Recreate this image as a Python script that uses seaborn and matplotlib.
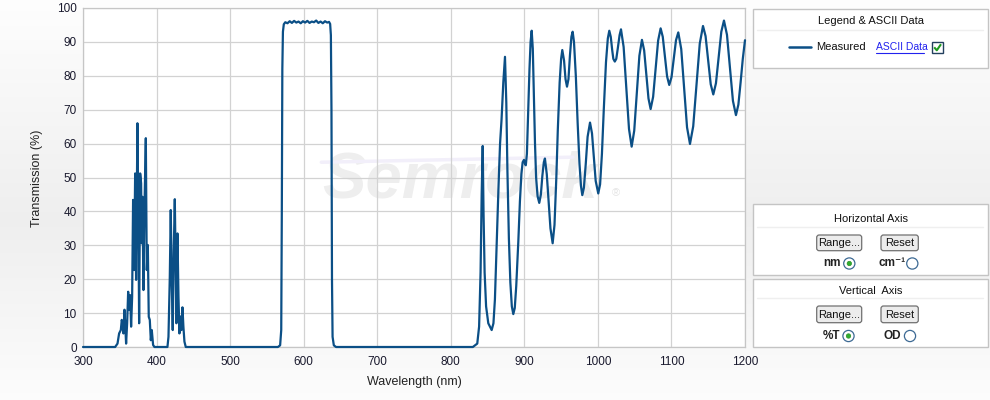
import numpy as np
import pandas as pd
import matplotlib
matplotlib.use("Agg")
import matplotlib.pyplot as plt
import seaborn as sns
from matplotlib.patches import Rectangle, FancyBboxPatch, Circle

# ---------------- data ----------------
uv_nm = [300, 340, 343.7, 346.9, 349.1, 351.4, 352.7, 353.7, 355.0, 356.4, 357.3, 358.6,
         360.0, 361.4, 362.7, 364.1, 365.4, 366.8, 368.1, 369.5, 370.9, 372.2,
         374.0, 375.4, 376.3, 377.7, 379.0, 379.9, 380.8, 382.2, 383.5, 385.4,
         386.7, 388.1, 389.4, 390.8, 392.2, 393.5, 395.3, 397.1,
         414.8, 416.2, 418.0, 419.3, 420.7, 422.0, 423.4, 424.8, 426.1, 427.0,
         428.4, 429.8, 431.1, 432.5, 433.8, 435.2, 436.5, 437.9, 439.7]
uv_T = [0, 0, 0, 1, 4, 5, 8, 7, 4, 11, 7, 1,
        7, 16.3, 11, 15.3, 6, 14.8, 43.4, 22.7, 51.2, 19.8,
        66, 35.5, 7, 51.2, 48.3, 30.6, 44.3, 16.8, 40.4, 61.6,
        22.7, 30.1, 8.9, 8, 2, 5, 0.6, 0,
        0, 3, 20.7, 40.4, 18.8, 5, 28.6, 43.6, 20.7, 7,
        33.5, 14.8, 4, 9, 5, 11.7, 6, 1.6, 0]

band_nm = [445, 565, 568, 569.5, 570.3, 571.0, 571.8, 573.0,
           575, 578, 581, 584, 587, 590, 593, 596, 599, 602,
           605, 608, 611, 614, 617, 620, 623, 626, 629, 632,
           634.5, 636, 637.0, 637.8, 638.5, 639.3, 641, 644]
band_T = [0, 0, 0.5, 5, 40, 82, 93, 95.2,
          95.8, 95.5, 96.1, 95.6, 96.2, 95.7, 96.0, 95.5, 96.1, 95.7,
          96.2, 95.6, 96.0, 95.8, 96.3, 95.6, 96.0, 95.5, 96.1, 95.7,
          95.9, 95.3, 92, 70, 20, 3, 0.5, 0]

ir_nm = [650, 830, 836, 838.5, 840.5, 842, 843.4, 844.5, 846, 848, 851, 855.6,
         858, 860, 862, 865, 867, 869, 871.4, 873.7, 875.5, 877, 879, 881, 883, 885,
         887, 889, 891.8, 894, 896, 897.7, 899.5, 901, 902, 903.5, 905, 907, 908.5, 910,
         911.5, 913, 914.5, 916, 918, 920.3, 922.5, 924.5, 926.5, 928,
         930.5, 933, 935.5, 938.5, 941, 943.5, 945.5, 948, 950, 951.6,
         954, 956, 958, 960, 962, 964, 965.7, 967.5, 970, 972.5, 975, 977, 978.8,
         981, 983.5, 986, 989.3, 992, 994.5, 997, 1000.5, 1003, 1005.5, 1008, 1011, 1013.5, 1015.5,
         1017.5, 1019.5, 1021, 1023, 1025, 1027, 1029.5, 1031.4,
         1035, 1038.7, 1042.3, 1045.9, 1049.4, 1052.9, 1056.4, 1059.9,
         1062.9, 1065.8, 1068.8, 1071.7, 1075.1, 1078.5, 1081.9, 1085.3,
         1088.2, 1091.2, 1094.1, 1097, 1100.1, 1103.2, 1106.2, 1109.3,
         1113.3, 1117.3, 1121.2, 1125.2, 1129.6, 1134, 1138.5, 1142.9,
         1146.4, 1149.9, 1153.4, 1156.9, 1160.5, 1164.2, 1167.8, 1171.4,
         1175.5, 1179.6, 1183.6, 1187.7, 1191, 1194, 1197, 1200]
ir_T = [0, 0, 1, 6, 22, 45, 59.3, 40, 22, 12, 7, 5,
        7, 14, 28, 48, 60, 67, 78, 85.6, 72, 52, 32, 19, 12, 9.7,
        11.5, 18, 31, 43, 51, 54.5, 55.2, 54, 53.6, 57, 68, 82, 90, 93.3,
        88, 74, 60, 50, 44.5, 42.5, 45, 50.5, 54.5, 55.6,
        51, 43, 35, 30.6, 36, 50, 64, 78, 85, 87.6,
        84.5, 79, 76.8, 79, 86, 91.5, 93, 90, 80, 66, 54, 47.5, 44.8,
        47, 54, 62, 66.2, 63, 56, 49, 45.3, 48, 57, 70, 84, 91, 93.3,
        91.5, 87.5, 85, 84.2, 85, 88, 92, 93.7,
        88.5, 76.4, 64.3, 59.1, 63.8, 74.9, 85.9, 90.6,
        87.5, 80.4, 73.3, 70.2, 73.8, 82.1, 90.4, 94,
        91.5, 85.7, 79.8, 77.3, 79.6, 85.1, 90.5, 92.8,
        87.9, 76.4, 64.8, 59.9, 65.1, 77.3, 89.5, 94.7,
        91.7, 84.6, 77.5, 74.5, 77.8, 85.4, 93.0, 96.3,
        92.1, 82.4, 72.6, 68.4, 71.5, 78, 85, 90.5]

x_ticks = [300, 400, 500, 600, 700, 800, 900, 1000, 1100, 1200]
y_ticks = [0, 10, 20, 30, 40, 50, 60, 70, 80, 90, 100]

assert len(uv_nm) == len(uv_T) and len(band_nm) == len(band_T) and len(ir_nm) == len(ir_T)

df = pd.DataFrame({
    "Wavelength (nm)": np.concatenate([uv_nm, band_nm, ir_nm]).astype(float),
    "Transmission (%)": np.concatenate([uv_T, band_T, ir_T]).astype(float),
})

# ---------------- style ----------------
sns.set_theme(style="white")
plt.rcParams['font.family'] = ['Liberation Sans', 'DejaVu Sans']

W, H = 990, 400
fig = plt.figure(figsize=(W / 100, H / 100), dpi=100)

# background gradient
bg = fig.add_axes([0, 0, 1, 1], zorder=-5)
t = np.linspace(0, 1, 200)
v = np.where(t < 0.55, 0.995 - (0.995 - 0.935) * (t / 0.55),
             0.935 + (0.99 - 0.935) * ((t - 0.55) / 0.45))
img = np.stack([v, v, v], axis=-1).reshape(200, 1, 3)
bg.imshow(img, aspect='auto', extent=[0, 1, 0, 1], interpolation='bilinear')
bg.set_axis_off()

LINE = '#0b4f86'
GRID = '#d2d2d2'
TXT = '#1a1a2e'

ax = fig.add_axes([83 / W, (H - 347) / H, 662 / W, 339 / H])
ax.set_facecolor('white')

# watermark
ax.text(0.57, 0.49, "Semrock", transform=ax.transAxes, ha='center', va='center',
        fontsize=47, fontweight='bold', style='italic', color='#eeeeee', zorder=0.1)
ax.text(0.805, 0.455, "®", transform=ax.transAxes, ha='center', va='center',
        fontsize=8, color='#e4e4e4', zorder=0.1)
ax.plot([0.36, 0.74], [0.545, 0.56], transform=ax.transAxes,
        color='#f2effa', lw=2.5, zorder=0.1)

sns.lineplot(data=df, x="Wavelength (nm)", y="Transmission (%)", ax=ax,
             color=LINE, linewidth=1.6, estimator=None, sort=False)
for ln in ax.lines:
    if ln.get_color() == LINE:
        ln.set_clip_on(False)
        ln.set_zorder(3)

ax.set_xlim(300, 1200)
ax.set_ylim(0, 100)
ax.set_xticks(x_ticks)
ax.set_yticks(y_ticks)
ax.grid(True, color=GRID, linewidth=0.9)
ax.set_axisbelow(True)
for s in ax.spines.values():
    s.set_color('#c6c6c6')
    s.set_linewidth(0.9)
ax.tick_params(axis='both', length=0, labelsize=8.5, colors=TXT)
ax.tick_params(axis='x', pad=6.5)
ax.tick_params(axis='y', pad=4.5)
ax.set_xlabel("")
ax.set_ylabel("")

fig.text(37 / W, 1 - 178 / H, "Transmission (%)", rotation=90, ha='center', va='center',
         fontsize=9, color='#222222')
fig.text(414 / W, 1 - 382 / H, "Wavelength (nm)", ha='center', va='center',
         fontsize=9, color='#222222')

# ---------------- right control panel ----------------
ov = fig.add_axes([0, 0, 1, 1], zorder=10)
ov.set_xlim(0, W)
ov.set_ylim(H, 0)
ov.set_axis_off()

BORDER = '#c4c4c4'


def box(y0, y1, title, ty, sep):
    ov.add_patch(Rectangle((752.5, y0), 235, y1 - y0, fc='white', ec=BORDER, lw=1))
    ov.plot([757, 983], [sep, sep], color='#efefef', lw=1)
    ov.text(870.5, ty, title, ha='center', va='center', fontsize=8, color='#111111')


def button(x0, x1, y0, y1, label):
    ov.add_patch(FancyBboxPatch((x0, y0), x1 - x0, y1 - y0,
                                boxstyle='round,pad=0,rounding_size=2.5',
                                fc='#ececec', ec='#707070', lw=0.9))
    ov.text((x0 + x1) / 2, (y0 + y1) / 2 + 0.5, label, ha='center', va='center',
            fontsize=8, color='#111111')


def radio(cx, cy, selected):
    ov.add_patch(Circle((cx, cy), 5.6, fc='white', ec='#3d6a94', lw=0.9))
    if selected:
        ov.add_patch(Circle((cx, cy), 2.2, fc='#2fae2f', ec='#2a8f2a', lw=0.5))


# Legend box
box(9, 68, "Legend & ASCII Data", 20.5, 29.5)
ov.plot([789, 811], [46.7, 46.7], color=LINE, lw=1.8)
ov.text(816, 47, "Measured", ha='left', va='center', fontsize=8, color='#111111')
ov.text(876, 47, "ASCII Data", ha='left', va='center', fontsize=7.5, color='#2222ee')
ov.plot([876, 924], [52.5, 52.5], color='#2222ee', lw=0.8)
ov.add_patch(Rectangle((931.5, 41.5), 11.5, 11.5, fc='white', ec='#23405e', lw=1))
ov.plot([934.2, 936.8, 941], [47.3, 50.3, 44.2], color='#1f9a1f', lw=1.5,
        solid_capstyle='butt')

# Horizontal axis box
box(203.5, 275, "Horizontal Axis", 219, 226.7)
button(816.7, 861.7, 235, 250.7, "Range...")
button(881, 918.3, 235, 250.7, "Reset")
ov.text(840.5, 263.5, "nm", ha='right', va='center', fontsize=8.5, fontweight='bold',
        color='#222222')
radio(849.3, 263.5, True)
ov.text(905.5, 263.5, "cm⁻¹", ha='right', va='center', fontsize=8.5, fontweight='bold',
        color='#222222')
radio(912.3, 263.5, False)

# Vertical axis box
box(278.5, 346.7, "Vertical  Axis", 290.7, 298.3)
button(816.7, 861.7, 306, 322.7, "Range...")
button(881, 918.3, 306, 322.7, "Reset")
ov.text(840.5, 336, "%T", ha='right', va='center', fontsize=8.5, fontweight='bold',
        color='#222222')
radio(848.5, 336, True)
ov.text(901, 336, "OD", ha='right', va='center', fontsize=8.5, fontweight='bold',
        color='#222222')
radio(910, 336, False)

fig.savefig("out.png", dpi=100)
